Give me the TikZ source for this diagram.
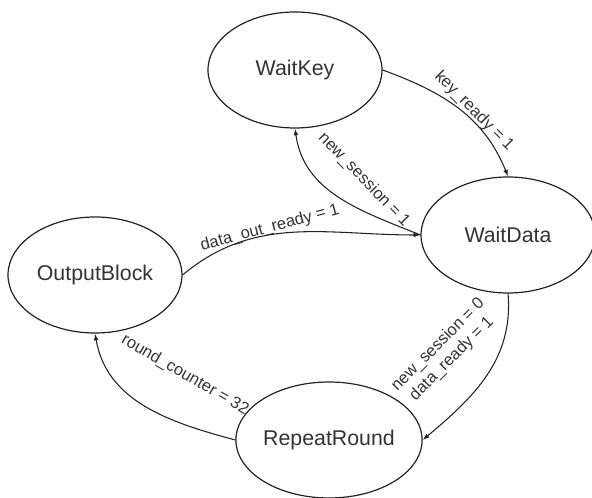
\documentclass[tikz,border=0pt]{standalone}
\usepackage{fontspec}
\setmainfont{Liberation Sans}
\usetikzlibrary{arrows.meta,shapes.geometric,positioning}
\definecolor{ink}{HTML}{222222}
\definecolor{labeltext}{HTML}{333333}
\tikzset{
    statenode/.style={
        ellipse,
        draw=ink,
        line width=0.9pt,
        minimum width=130.5pt,
        minimum height=87pt,
        inner sep=0pt,
        text=labeltext,
        font=\fontsize{16}{19}\selectfont
    },
    transition/.style={
        -{Latex[length=5pt,width=3.5pt]},
        line width=0.8pt,
        color=ink
    },
    guard/.style={
        text=labeltext,
        inner sep=1pt,
        font=\fontsize{12.4}{14.5}\selectfont
    }
}

\begin{document}
\begin{tikzpicture}[x=0.75pt,y=0.75pt]

    \useasboundingbox (0,0) rectangle (592,498);

    % Etats
    \node[statenode] (waitkey) at (295,428) {WaitKey};
    \node[statenode] (waitdata) at (508,263) {WaitData};
    \node[statenode] (outputblock) at (95,223) {OutputBlock};
    \node[statenode] (repeatround) at (329,58) {RepeatRound};

    % Transitions
    \draw[transition]
        (waitkey.east)
        to[out=-20,in=112]
        (waitdata.north);

    \draw[transition]
        (waitdata.west)
        to[out=158,in=-82]
        (waitkey.south);

    \draw[transition]
        (outputblock.east)
        to[out=40,in=180]
        (waitdata.west);

    \draw[transition]
        (waitdata.south)
        to[out=-85,in=40]
        (repeatround.east);

    \draw[transition]
        (repeatround.west)
        to[out=165,in=-80]
        (outputblock.south);

    % Conditions
    \node[guard,rotate=-45]
        (keyready) at (474,387)
        {key\_ready = 1};

    \node[guard,rotate=-46]
        (newsession) at (364,318)
        {new\_session = 1};

    \node[guard,rotate=15]
        (dataout) at (270,270)
        {data\_out\_ready = 1};

    \node[guard,rotate=45,align=center]
        (dataready) at (445,146)
        {new\_session = 0\\data\_ready = 1};

    \node[guard,rotate=-30]
        (roundcounter) at (185,123)
        {round\_counter = 32};

\end{tikzpicture}
\end{document}
